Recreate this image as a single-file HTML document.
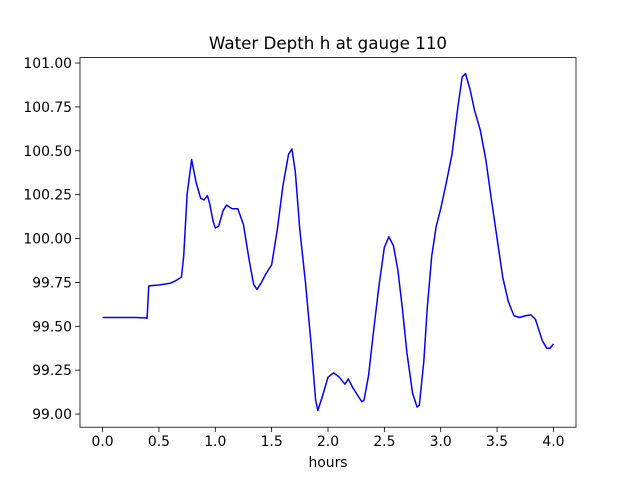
<!DOCTYPE html>
<html><head><meta charset="utf-8"><style>
body{margin:0;background:#fff;}
svg text{font-family:"DejaVu Sans","Liberation Sans",sans-serif;fill:#000;}
</style></head><body>
<svg id="chart" width="640" height="480" xmlns="http://www.w3.org/2000/svg">
<rect width="640" height="480" fill="#fff"/>
<text x="328" y="49" font-size="16.7" text-anchor="middle">Water Depth h at gauge 110</text>
<g id="ticks"></g>
<polyline id="line" fill="none" stroke="#0000ff" stroke-width="1.5" stroke-linejoin="round"/>
<rect x="80" y="57.6" width="496" height="369.6" fill="none" stroke="#000" stroke-width="0.8"/>
<text x="328" y="467" font-size="13.9" text-anchor="middle">hours</text>
</svg>
<script>
const hours=[0,0.1,0.2,0.3,0.39,0.395,0.41,0.5,0.6,0.65,0.7,0.72,0.75,0.79,0.83,0.87,0.9,0.93,0.95,0.98,1.0,1.03,1.07,1.1,1.15,1.2,1.25,1.3,1.34,1.37,1.41,1.45,1.5,1.55,1.6,1.65,1.68,1.71,1.75,1.8,1.85,1.89,1.91,1.95,2.0,2.05,2.1,2.15,2.18,2.22,2.26,2.3,2.32,2.36,2.4,2.45,2.5,2.54,2.58,2.62,2.66,2.7,2.75,2.79,2.81,2.85,2.88,2.92,2.96,3.0,3.05,3.1,3.15,3.19,3.22,3.26,3.3,3.35,3.4,3.45,3.5,3.55,3.6,3.65,3.7,3.75,3.8,3.84,3.87,3.9,3.94,3.97,4.0];
const depth=[99.55,99.55,99.55,99.55,99.547,99.545,99.73,99.735,99.745,99.76,99.78,99.9,100.25,100.45,100.32,100.23,100.22,100.245,100.2,100.1,100.06,100.07,100.16,100.19,100.17,100.17,100.08,99.88,99.74,99.71,99.75,99.8,99.85,100.05,100.3,100.48,100.51,100.38,100.05,99.75,99.4,99.08,99.02,99.1,99.21,99.235,99.21,99.17,99.2,99.15,99.11,99.07,99.08,99.22,99.45,99.72,99.95,100.01,99.96,99.82,99.6,99.35,99.12,99.04,99.05,99.3,99.6,99.9,100.07,100.17,100.32,100.48,100.74,100.92,100.94,100.85,100.73,100.62,100.45,100.22,100.0,99.78,99.64,99.56,99.55,99.56,99.565,99.54,99.48,99.42,99.375,99.375,99.4];
const xTicks=[0,0.5,1,1.5,2,2.5,3,3.5,4];
const yTicks=[99,99.25,99.5,99.75,100,100.25,100.5,100.75,101];
const L=80,R=576,T=57.6,B=427.2,xmin=-0.2,xmax=4.2,ymin=98.925,ymax=101.031;
const sx=v=>L+(v-xmin)/(xmax-xmin)*(R-L);
const sy=v=>B-(v-ymin)/(ymax-ymin)*(B-T);
const NS="http://www.w3.org/2000/svg";
const g=document.getElementById('ticks');
function mk(tag,attrs){const e=document.createElementNS(NS,tag);for(const k in attrs)e.setAttribute(k,attrs[k]);return e;}
xTicks.forEach(v=>{
 const t=mk('line',{x1:sx(v),x2:sx(v),y1:B,y2:B+4.9,stroke:'#000','stroke-width':0.8});
 
 
 g.appendChild(t);
 const l=mk('text',{x:sx(v),y:B+19,'font-size':13.9,'text-anchor':'middle'});
 
 
 l.textContent=v.toFixed(1);g.appendChild(l);
});
yTicks.forEach(v=>{
 const t=mk('line',{x1:L-4.9,x2:L,y1:sy(v),y2:sy(v),stroke:'#000','stroke-width':0.8});
 
 
 g.appendChild(t);
 const l=mk('text',{x:L-8,y:sy(v)+5,'font-size':13.9,'text-anchor':'end'});
 
 
 l.textContent=v.toFixed(2);g.appendChild(l);
});
document.getElementById('line').setAttribute('points',hours.map((h,i)=>sx(h).toFixed(2)+','+sy(depth[i]).toFixed(2)).join(' '));
</script>
</body></html>
